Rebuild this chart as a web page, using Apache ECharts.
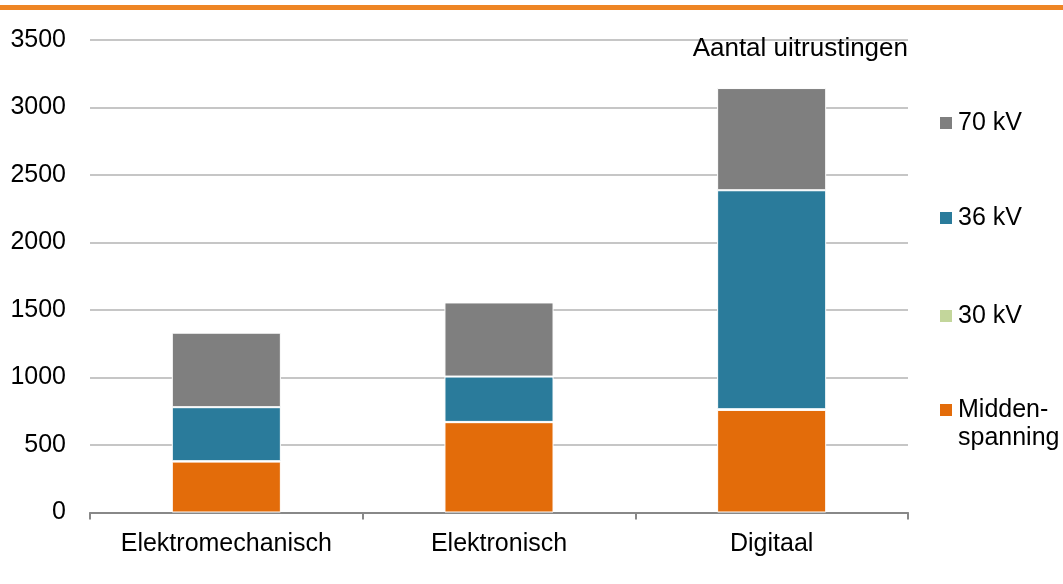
<!DOCTYPE html>
<html>
<head>
<meta charset="utf-8">
<script src="https://cdn.jsdelivr.net/npm/echarts@6/dist/echarts.min.js"></script>
<style>
  html, body { margin: 0; padding: 0; background: #fff; }
  #chart { width: 1063px; height: 584px; }
</style>
</head>
<body>
<div id="chart"></div>
<script>
// categorieën en waarden
const categories = ['Elektromechanisch', 'Elektronisch', 'Digitaal'];
const middenspanning = [377, 669, 760];
const kv30 = [3, 2, 5];
const kv36 = [400, 336, 1622];
const kv70 = [552, 549, 757];
const yTicks = [0, 500, 1000, 1500, 2000, 2500, 3000, 3500];

const FONT = '"Liberation Sans", Arial, sans-serif';

const chart = echarts.init(document.getElementById('chart'));

// één legend per item zodat de verticale posities vrij te kiezen zijn
const legendItem = (name, top, fmt, lineHeight) => ({
  data: [name],
  orient: 'vertical',
  left: 938,
  top: top,
  padding: 0,
  icon: 'rect',
  itemWidth: 14,
  itemHeight: 14,
  itemGap: 0,
  selectedMode: false,
  formatter: fmt || (n => n),
  textStyle: { fontFamily: FONT, fontSize: 25, color: '#000', lineHeight: lineHeight || 26 }
});

const barSeries = (name, data, color) => ({
  name: name,
  type: 'bar',
  stack: 'totaal',
  data: data,
  barWidth: '40%',
  itemStyle: { color: color, borderColor: '#fff', borderWidth: 1 },
  emphasis: { disabled: true }
});

const option = {
  animation: false,
  textStyle: { fontFamily: FONT },
  grid: { left: 90, right: 155, top: 40, bottom: 71.5, containLabel: false },
  title: {
    text: 'Aantal uitrustingen',
    right: 155,
    top: 36,
    padding: 0,
    textStyle: { fontFamily: FONT, fontSize: 26, fontWeight: 'normal', color: '#000' }
  },
  legend: [
    legendItem('70 kV', 110),
    legendItem('36 kV', 205),
    legendItem('30 kV', 303),
    legendItem('Middenspanning', 410 - 42, () => '\nMidden-\nspanning', 28)
  ],
  xAxis: {
    type: 'category',
    data: categories,
    axisLine: { lineStyle: { color: '#888', width: 2 } },
    axisTick: { show: true, interval: 0, length: 7, lineStyle: { color: '#888', width: 2 } },
    axisLabel: { fontFamily: FONT, fontSize: 25, color: '#000', margin: 19, interval: 0, hideOverlap: false }
  },
  yAxis: {
    type: 'value',
    min: yTicks[0],
    max: yTicks[yTicks.length - 1],
    interval: 500,
    axisLine: { show: false },
    axisTick: { show: false },
    axisLabel: { fontFamily: FONT, fontSize: 25, color: '#000', margin: 24, formatter: v => String(v) },
    splitLine: { lineStyle: { color: '#c6c6c6', width: 2 } }
  },
  series: [
    barSeries('Middenspanning', middenspanning, '#E36C0A'),
    barSeries('30 kV', kv30, '#C3D69B'),
    barSeries('36 kV', kv36, '#2A7B9B'),
    barSeries('70 kV', kv70, '#7F7F7F')
  ],
  graphic: [
    { type: 'rect', left: 0, top: 5, shape: { width: 1063, height: 5 }, style: { fill: '#EE8524' } }
  ]
};

chart.setOption(option);
</script>
</body>
</html>
